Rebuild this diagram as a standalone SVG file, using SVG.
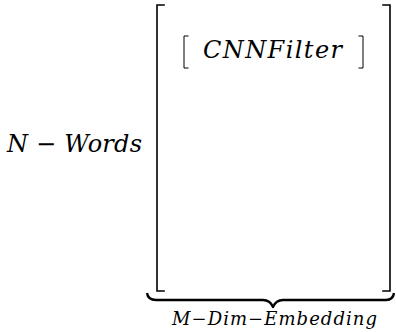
<svg xmlns="http://www.w3.org/2000/svg" width="396" height="332" viewBox="0 0 396 332">
<style>
.br{fill:none;stroke:#000;stroke-width:1.6;stroke-linecap:square}
.bi{fill:none;stroke:#000;stroke-width:1;stroke-linecap:square}
.brace{fill:none;stroke:#000;stroke-width:2.4;stroke-linejoin:round}
.m{font-family:"DejaVu Serif","Liberation Serif",serif;font-style:italic;fill:#000}
</style>
<rect width="396" height="332" fill="#fff"/>
<g id="label-n-words">
<text class="m" x="7" y="152" font-size="24" textLength="135" lengthAdjust="spacing">N − Words</text>
</g>
<g id="matrix">
<path class="br" d="M164,5 H157 V291 H164"/>
<path class="br" d="M383,5 H390 V291 H383"/>
</g>
<g id="cnn-filter">
<path class="bi" d="M188,36 H184 V68 H188"/>
<path class="bi" d="M359,36 H363 V68 H359"/>
<text class="m" x="203" y="58" font-size="24" textLength="139" lengthAdjust="spacing">CNNFilter</text>
</g>
<g id="connectors">
<path class="brace" d="M147,293 Q148,300 156,300 L263,300 Q270,300 273,307 Q276,300 283,300 L386,300 Q393,300 394,293"/>
</g>
<g id="label-embedding">
<text class="m" x="172" y="325" font-size="18" textLength="205" lengthAdjust="spacing">M−Dim−Embedding</text>
</g>
</svg>
